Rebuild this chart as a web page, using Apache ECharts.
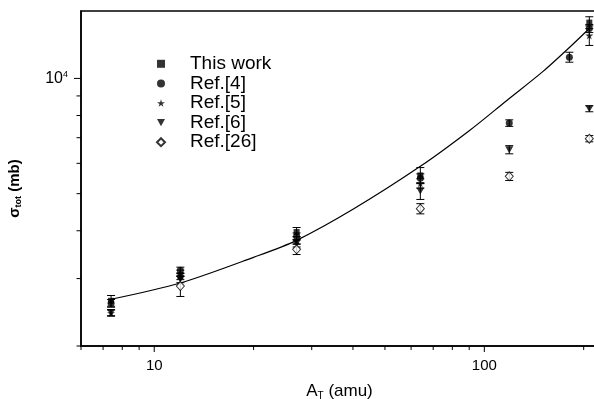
<!DOCTYPE html>
<html>
<head>
<meta charset="utf-8">
<script src="https://cdn.jsdelivr.net/npm/echarts@6/dist/echarts.min.js"></script>
<style>
  html, body { margin: 0; padding: 0; background: #fff; overflow: hidden; }
  #chart { width: 610px; height: 399px; }
</style>
</head>
<body>
<div id="chart"></div>
<script>
// target mass number (amu) and total cross section (mb)
const thisWorkA = [7.4, 12, 27, 64, 208];
const thisWorkSigma = [2625, 3041, 3969, 5580, 13990];
const thisWorkErr = [85, 60, 110, 270, 500];

const ref4A = [7.4, 12, 27, 64, 119, 181, 208];
const ref4Sigma = [2585, 3153, 3868, 5482, 7644, 11365, 13505];
const ref4Err = [60, 60, 80, 150, 150, 340, 330];

const ref5A = [7.4, 12, 27, 64, 208];
const ref5Sigma = [2438, 3097, 3777, 5318, 12953];
const ref5Err = [45, 60, 80, 150, 760];

const ref6A = [7.4, 12, 27, 64, 119, 208];
const ref6Sigma = [2445, 2987, 3708, 5079, 6514, 8333];
const ref6Err = [45, 60, 80, 250, 160, 150];

const ref26A = [12, 27, 64, 119, 208];
const ref26Sigma = [2869, 3577, 4568, 5548, 6960];
const ref26Err = [175, 110, 140, 135, 130];

// fitted curve
const fitA = [7.4, 12, 20, 27, 40, 64, 90, 117, 150, 181, 208];
const fitSigma = [2649, 2921, 3409, 3776, 4550, 5892, 7300, 8760, 10400, 12045, 13505];

const xMajorTicks = [10, 100];
const xMinorTicks = [6, 7, 8, 9, 20, 30, 40, 50, 60, 70, 80, 90, 200];
const yMajorTicks = [10000];
const yMinorTicks = [2000, 3000, 4000, 5000, 6000, 7000, 8000, 9000];

const xMin = 6, xMax = 221, yMin = 2000, yMax = 15000;

const chart = echarts.init(document.getElementById('chart'));

const star = 'path://M50,0 L61,35 L98,35 L68,57 L79,91 L50,70 L21,91 L32,57 L2,35 L39,35 Z';
const downTri = 'path://M0,0 L10,0 L5,9 Z';

function zip(a, s, e) {
  return a.map((v, i) => [v, s[i], e[i]]);
}

function errorBars(name, a, s, e) {
  return {
    type: 'custom',
    name: name + ' err',
    silent: true,
    z: 1,
    data: zip(a, s, e),
    encode: { x: 0, y: 1 },
    renderItem: (params, api) => {
      const x = api.value(0), y = api.value(1), d = api.value(2);
      const hi = api.coord([x, y + d]);
      const lo = api.coord([x, y - d]);
      const cap = 4;
      return {
        type: 'group',
        children: [
          { type: 'line', shape: { x1: hi[0], y1: hi[1], x2: lo[0], y2: lo[1] }, style: { stroke: '#000', lineWidth: 1 } },
          { type: 'line', shape: { x1: hi[0] - cap, y1: hi[1], x2: hi[0] + cap, y2: hi[1] }, style: { stroke: '#000', lineWidth: 1 } },
          { type: 'line', shape: { x1: lo[0] - cap, y1: lo[1], x2: lo[0] + cap, y2: lo[1] }, style: { stroke: '#000', lineWidth: 1 } }
        ]
      };
    }
  };
}

function tickSeries(values, axis, len) {
  return {
    type: 'custom',
    silent: true,
    clip: false,
    data: values.map(v => axis === 'x' ? [v, yMin] : [xMin, v]),
    encode: { x: 0, y: 1 },
    renderItem: (params, api) => {
      const p = api.coord([api.value(0), api.value(1)]);
      const shape = axis === 'x'
        ? { x1: p[0], y1: p[1], x2: p[0], y2: p[1] + len }
        : { x1: p[0], y1: p[1], x2: p[0] - len, y2: p[1] };
      return { type: 'line', shape, style: { stroke: '#000', lineWidth: 1 } };
    }
  };
}

function isPow10(v) {
  const l = Math.log10(v);
  return Math.abs(l - Math.round(l)) < 1e-6;
}

const option = {
  animation: false,
  textStyle: { fontFamily: 'Liberation Sans, Arial, sans-serif', color: '#000' },
  grid: {
    left: 81, top: 11, right: 12, bottom: 53,
    outerBoundsMode: 'none',
    containLabel: false,
    show: true, borderColor: '#000', borderWidth: 1.5
  },
  legend: {
    orient: 'vertical',
    left: 151,
    top: 49,
    itemWidth: 8,
    itemHeight: 8,
    itemGap: 0,
    selectedMode: false,
    textStyle: { fontSize: 19, color: '#000', padding: [0, 0, 0, 20], lineHeight: 19.6 },
    data: ['This work', 'Ref.[4]', 'Ref.[5]', 'Ref.[6]', 'Ref.[26]']
  },
  xAxis: {
    type: 'log',
    logBase: 10,
    min: xMin,
    max: xMax,
    name: 'A{sub|T} (amu)',
    nameLocation: 'middle',
    nameGap: 36,
    nameTextStyle: {
      fontSize: 17, color: '#000',
      rich: { sub: { fontSize: 10, padding: [9, 0, 0, 0] } }
    },
    axisLine: { lineStyle: { color: '#000', width: 1.5 } },
    axisTick: { show: false },
    splitLine: { show: false },
    axisLabel: {
      fontSize: 15, color: '#000', margin: 12,
      formatter: v => isPow10(v) ? String(Math.round(v)) : ''
    }
  },
  yAxis: {
    type: 'log',
    logBase: 10,
    min: yMin,
    max: yMax,
    name: '{s|σ}{sub|tot}{s| (mb)}',
    nameLocation: 'middle',
    nameGap: 58,
    nameRotate: 90,
    nameTextStyle: {
      color: '#000',
      padding: [0, 20, 0, 0],
      rich: {
        s: { fontSize: 15, fontWeight: 'bold' },
        sub: { fontSize: 9, fontWeight: 'bold', padding: [8, 0, 0, 0] }
      }
    },
    axisLine: { lineStyle: { color: '#000', width: 1.5 } },
    axisTick: { show: false },
    splitLine: { show: false },
    axisLabel: {
      color: '#000', margin: 13,
      formatter: v => isPow10(v) ? '{b|10}{sup|' + Math.round(Math.log10(v)) + '}' : '',
      rich: {
        b: { fontSize: 16 },
        sup: { fontSize: 9, padding: [0, 0, 8, 0] }
      }
    }
  },
  series: [
    tickSeries(xMajorTicks, 'x', 6),
    tickSeries(xMinorTicks, 'x', 4),
    tickSeries(yMajorTicks, 'y', 7),
    tickSeries(yMinorTicks, 'y', 4.5),
    {
      type: 'line',
      name: 'fit',
      data: fitA.map((a, i) => [a, fitSigma[i]]),
      smooth: 0.3,
      symbol: 'none',
      silent: true,
      lineStyle: { color: '#000', width: 1.2 },
      z: 1
    },
    errorBars('This work', thisWorkA, thisWorkSigma, thisWorkErr),
    errorBars('Ref.[4]', ref4A, ref4Sigma, ref4Err),
    errorBars('Ref.[5]', ref5A, ref5Sigma, ref5Err),
    errorBars('Ref.[6]', ref6A, ref6Sigma, ref6Err),
    errorBars('Ref.[26]', ref26A, ref26Sigma, ref26Err),
    {
      type: 'scatter', name: 'This work', symbol: 'rect', symbolSize: 6, z: 3,
      itemStyle: { color: '#000' },
      data: thisWorkA.map((a, i) => [a, thisWorkSigma[i]])
    },
    {
      type: 'scatter', name: 'Ref.[4]', symbol: 'circle', symbolSize: 7, z: 3,
      itemStyle: { color: '#000' },
      data: ref4A.map((a, i) => [a, ref4Sigma[i]])
    },
    {
      type: 'scatter', name: 'Ref.[5]', symbol: star, symbolSize: 8, z: 3,
      itemStyle: { color: '#000' },
      data: ref5A.map((a, i) => [a, ref5Sigma[i]])
    },
    {
      type: 'scatter', name: 'Ref.[6]', symbol: downTri, symbolSize: [8, 7], z: 3,
      itemStyle: { color: '#000' },
      data: ref6A.map((a, i) => [a, ref6Sigma[i]])
    },
    {
      type: 'scatter', name: 'Ref.[26]', symbol: 'diamond', symbolSize: [8, 9], z: 4,
      itemStyle: { color: '#fff', borderColor: '#000', borderWidth: 1 },
      data: ref26A.map((a, i) => [a, ref26Sigma[i]])
    }
  ]
};

chart.setOption(option);
</script>
</body>
</html>
